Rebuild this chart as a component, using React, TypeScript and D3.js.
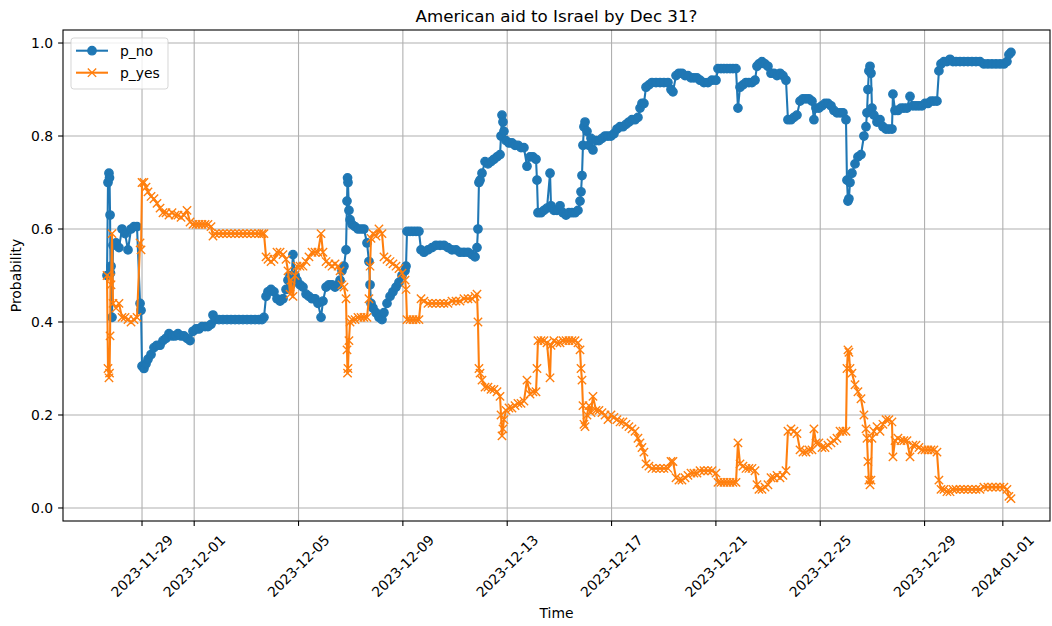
import * as d3 from 'd3';

// hours counted from 2023-11-27 00:00
const START = new Date(2023, 10, 27);

const hours = [
  15.8, 16.7, 17.6, 18.1, 18.6, 19.0, 19.5, 20.4, 21.3, 24.1,
  26.8, 29.6, 32.4, 35.1, 37.9, 40.6, 43.4, 46.2, 47.1, 48.0,
  49.8, 51.7, 53.5, 56.3, 59.0, 61.8, 64.6, 67.3, 70.1, 72.8,
  75.6, 78.4, 81.1, 83.9, 86.6, 89.4, 92.2, 94.9, 97.7, 100.4,
  103.2, 106.0, 108.7, 111.5, 113.3, 115.2, 118.8, 122.5, 126.2, 129.9,
  133.6, 137.2, 140.9, 144.6, 148.3, 152.0, 155.6, 158.4, 160.2, 162.1,
  163.9, 166.7, 169.4, 172.2, 175.0, 177.7, 180.5, 182.3, 184.2, 185.1,
  186.9, 188.8, 190.6, 193.4, 196.1, 198.9, 201.6, 204.4, 207.2, 209.9,
  212.7, 214.5, 217.3, 220.0, 222.8, 225.6, 228.3, 230.2, 232.0, 233.8,
  235.7, 236.6, 237.1, 237.5, 238.4, 239.4, 241.2, 244.0, 246.7, 249.5,
  252.2, 255.0, 256.8, 257.8, 258.7, 260.5, 263.3, 266.0, 268.8, 270.6,
  273.4, 276.2, 278.9, 281.7, 284.4, 287.2, 290.0, 290.9, 291.8, 294.6,
  297.3, 300.1, 302.8, 304.7, 307.4, 311.1, 314.8, 318.5, 322.2, 325.8,
  329.5, 333.2, 336.9, 340.6, 344.2, 347.9, 351.6, 354.4, 356.2, 357.1,
  358.0, 359.0, 360.8, 363.6, 366.3, 369.1, 371.8, 374.6, 377.4, 378.3,
  379.2, 380.1, 381.0, 382.9, 385.6, 388.4, 391.2, 393.9, 396.7, 399.4,
  402.2, 405.0, 407.7, 410.5, 411.4, 412.3, 415.1, 417.8, 420.6, 423.4,
  424.3, 427.0, 429.8, 432.6, 435.3, 438.1, 440.8, 443.6, 446.4, 449.1,
  451.0, 451.9, 452.8, 453.7, 454.6, 455.6, 457.4, 459.2, 461.1, 462.9,
  465.7, 468.4, 471.2, 474.0, 476.7, 479.5, 482.2, 485.0, 487.8, 490.5,
  493.3, 496.0, 498.8, 501.6, 504.3, 506.2, 508.0, 509.8, 511.7, 514.4,
  517.2, 520.9, 524.6, 528.2, 531.9, 534.7, 536.5, 539.3, 542.0, 544.8,
  547.6, 550.3, 553.1, 555.8, 558.6, 561.4, 565.0, 568.7, 572.4, 576.1,
  577.9, 580.7, 583.4, 586.2, 589.0, 591.7, 594.5, 596.3, 598.2, 600.9,
  603.7, 606.4, 609.2, 612.0, 613.8, 615.6, 618.4, 621.2, 623.9, 626.7,
  629.4, 632.2, 635.0, 637.7, 640.5, 642.3, 645.1, 647.8, 650.6, 653.4,
  656.1, 658.9, 661.6, 664.4, 666.2, 668.1, 670.8, 673.6, 676.4, 679.1,
  681.9, 684.6, 687.4, 690.2, 692.9, 695.7, 696.6, 697.5, 698.4, 699.4,
  701.2, 704.0, 706.7, 709.5, 712.2, 714.1, 715.0, 715.9, 716.8, 717.8,
  718.7, 719.6, 721.4, 724.2, 727.0, 729.7, 732.5, 735.2, 738.0, 738.9,
  740.8, 743.5, 746.3, 749.0, 751.8, 754.6, 757.3, 760.1, 762.8, 765.6,
  768.4, 771.1, 773.9, 776.6, 779.4, 781.2, 783.1, 785.8, 788.6, 791.4,
  794.1, 796.9, 800.6, 804.2, 807.9, 811.6, 815.3, 819.0, 822.6, 826.3,
  830.0, 833.7, 837.4, 841.0, 843.8, 845.6, 847.5,
];

const pNo = [
  0.50, 0.70, 0.72, 0.71, 0.63, 0.505, 0.52, 0.41, 0.565, 0.57,
  0.56, 0.60, 0.59, 0.555, 0.60, 0.605, 0.605, 0.44, 0.425, 0.305,
  0.30, 0.31, 0.32, 0.33, 0.345, 0.35, 0.35, 0.36, 0.365, 0.375,
  0.37, 0.37, 0.375, 0.37, 0.37, 0.365, 0.36, 0.38, 0.385, 0.385,
  0.39, 0.39, 0.39, 0.395, 0.415, 0.405, 0.405, 0.405, 0.405, 0.405,
  0.405, 0.405, 0.405, 0.405, 0.405, 0.405, 0.405, 0.405, 0.41, 0.455,
  0.465, 0.47, 0.465, 0.45, 0.445, 0.45, 0.47, 0.49, 0.50, 0.48,
  0.545, 0.50, 0.49, 0.48, 0.475, 0.46, 0.455, 0.45, 0.45, 0.44,
  0.41, 0.445, 0.475, 0.48, 0.48, 0.475, 0.48, 0.49, 0.51, 0.52,
  0.555, 0.66, 0.71, 0.70, 0.64, 0.62, 0.61, 0.605, 0.60, 0.60,
  0.60, 0.57, 0.53, 0.48, 0.44, 0.43, 0.42, 0.41, 0.405, 0.42,
  0.44, 0.455, 0.465, 0.475, 0.485, 0.50, 0.51, 0.52, 0.595, 0.595,
  0.595, 0.595, 0.595, 0.555, 0.55, 0.555, 0.56, 0.565, 0.565, 0.565,
  0.56, 0.555, 0.555, 0.55, 0.55, 0.55, 0.545, 0.54, 0.56, 0.60,
  0.70, 0.705, 0.72, 0.745, 0.74, 0.745, 0.75, 0.755, 0.76, 0.80,
  0.845, 0.83, 0.81, 0.79, 0.785, 0.785, 0.78, 0.78, 0.775, 0.775,
  0.735, 0.755, 0.755, 0.75, 0.705, 0.635, 0.635, 0.64, 0.645, 0.72,
  0.65, 0.64, 0.64, 0.65, 0.635, 0.63, 0.635, 0.635, 0.635, 0.64,
  0.66, 0.68, 0.715, 0.78, 0.82, 0.83, 0.81, 0.78, 0.795, 0.77,
  0.79, 0.79, 0.795, 0.80, 0.80, 0.80, 0.805, 0.815, 0.82, 0.82,
  0.825, 0.83, 0.835, 0.835, 0.84, 0.86, 0.87, 0.87, 0.905, 0.91,
  0.915, 0.915, 0.915, 0.915, 0.915, 0.90, 0.895, 0.93, 0.935, 0.935,
  0.93, 0.93, 0.925, 0.925, 0.925, 0.92, 0.915, 0.915, 0.92, 0.92,
  0.945, 0.945, 0.945, 0.945, 0.945, 0.945, 0.945, 0.86, 0.905, 0.91,
  0.915, 0.915, 0.915, 0.92, 0.95, 0.955, 0.96, 0.955, 0.95, 0.935,
  0.935, 0.93, 0.935, 0.93, 0.92, 0.835, 0.835, 0.84, 0.845, 0.875,
  0.88, 0.88, 0.88, 0.875, 0.835, 0.86, 0.86, 0.865, 0.87, 0.87,
  0.865, 0.855, 0.85, 0.85, 0.85, 0.835, 0.705, 0.66, 0.665, 0.70,
  0.72, 0.74, 0.755, 0.76, 0.80, 0.82, 0.85, 0.90, 0.94, 0.95,
  0.935, 0.86, 0.845, 0.83, 0.835, 0.82, 0.815, 0.815, 0.815, 0.89,
  0.855, 0.855, 0.86, 0.86, 0.86, 0.885, 0.865, 0.865, 0.865, 0.865,
  0.87, 0.87, 0.875, 0.875, 0.875, 0.94, 0.955, 0.96, 0.96, 0.965,
  0.96, 0.96, 0.96, 0.96, 0.96, 0.96, 0.96, 0.96, 0.955, 0.955,
  0.955, 0.955, 0.955, 0.955, 0.96, 0.975, 0.98,
];

const pYes = [
  0.50, 0.30, 0.28, 0.29, 0.37, 0.495, 0.48, 0.59, 0.44, 0.43,
  0.44, 0.41, 0.41, 0.405, 0.40, 0.405, 0.41, 0.57, 0.555, 0.70,
  0.70, 0.69, 0.68, 0.67, 0.665, 0.655, 0.645, 0.635, 0.635, 0.63,
  0.635, 0.63, 0.63, 0.625, 0.63, 0.64, 0.615, 0.61, 0.61, 0.61,
  0.61, 0.61, 0.61, 0.605, 0.585, 0.59, 0.59, 0.59, 0.59, 0.59,
  0.59, 0.59, 0.59, 0.59, 0.59, 0.59, 0.59, 0.59, 0.59, 0.54,
  0.535, 0.53, 0.535, 0.55, 0.55, 0.545, 0.535, 0.51, 0.46, 0.49,
  0.455, 0.50, 0.52, 0.52, 0.52, 0.53, 0.54, 0.55, 0.55, 0.55,
  0.59, 0.55, 0.53, 0.525, 0.52, 0.525, 0.52, 0.51, 0.48, 0.475,
  0.45, 0.34, 0.29, 0.30, 0.36, 0.40, 0.405, 0.405, 0.41, 0.41,
  0.41, 0.41, 0.45, 0.52, 0.58, 0.59, 0.585, 0.60, 0.59, 0.54,
  0.535, 0.53, 0.525, 0.52, 0.515, 0.505, 0.49, 0.47, 0.405, 0.405,
  0.405, 0.405, 0.405, 0.45, 0.445, 0.44, 0.44, 0.44, 0.44, 0.44,
  0.44, 0.445, 0.445, 0.445, 0.45, 0.45, 0.45, 0.455, 0.46, 0.40,
  0.30, 0.29, 0.275, 0.26, 0.26, 0.255, 0.255, 0.25, 0.24, 0.20,
  0.155, 0.17, 0.19, 0.21, 0.215, 0.215, 0.22, 0.225, 0.225, 0.23,
  0.275, 0.245, 0.25, 0.25, 0.30, 0.36, 0.36, 0.36, 0.355, 0.28,
  0.35, 0.36, 0.355, 0.355, 0.36, 0.36, 0.36, 0.36, 0.36, 0.355,
  0.34, 0.30, 0.275, 0.22, 0.18, 0.175, 0.20, 0.22, 0.205, 0.24,
  0.21, 0.21, 0.205, 0.20, 0.19, 0.20, 0.195, 0.19, 0.185, 0.185,
  0.18, 0.175, 0.17, 0.165, 0.15, 0.14, 0.13, 0.12, 0.095, 0.09,
  0.085, 0.085, 0.085, 0.085, 0.085, 0.10, 0.10, 0.065, 0.06, 0.06,
  0.065, 0.07, 0.075, 0.075, 0.075, 0.08, 0.08, 0.08, 0.08, 0.075,
  0.055, 0.055, 0.055, 0.055, 0.055, 0.055, 0.055, 0.14, 0.095, 0.09,
  0.085, 0.085, 0.085, 0.08, 0.05, 0.04, 0.04, 0.045, 0.05, 0.065,
  0.065, 0.07, 0.065, 0.07, 0.08, 0.165, 0.17, 0.165, 0.16, 0.125,
  0.12, 0.12, 0.125, 0.125, 0.17, 0.14, 0.14, 0.13, 0.13, 0.135,
  0.14, 0.145, 0.15, 0.165, 0.165, 0.165, 0.30, 0.34, 0.335, 0.30,
  0.29, 0.265, 0.25, 0.235, 0.20, 0.17, 0.15, 0.10, 0.06, 0.05,
  0.06, 0.15, 0.165, 0.175, 0.165, 0.18, 0.19, 0.19, 0.185, 0.11,
  0.145, 0.15, 0.145, 0.145, 0.145, 0.11, 0.135, 0.135, 0.13, 0.125,
  0.125, 0.125, 0.125, 0.125, 0.12, 0.06, 0.04, 0.04, 0.035, 0.035,
  0.04, 0.04, 0.04, 0.04, 0.04, 0.04, 0.04, 0.04, 0.045, 0.045,
  0.045, 0.045, 0.045, 0.045, 0.04, 0.025, 0.02,
];

const tickDates = [
  '2023-11-29', '2023-12-01', '2023-12-05', '2023-12-09', '2023-12-13',
  '2023-12-17', '2023-12-21', '2023-12-25', '2023-12-29', '2024-01-01',
];
const yTicks = [0, 0.2, 0.4, 0.6, 0.8, 1.0];

const BLUE = '#1f77b4';
const ORANGE = '#ff7f0e';
const FONT = 'DejaVu Sans, sans-serif';

const W = 1052;
const H = 626;
const left = 63;
const right = 1050;
const top = 30;
const bottom = 521;

const at = (h: number) => new Date(START.getTime() + h * 3600 * 1000);
const parseDay = d3.timeParse('%Y-%m-%d');

const xMark = 'M-4.17,-4.17L4.17,4.17M-4.17,4.17L4.17,-4.17';

export default function App() {
  const x = d3.scaleTime().domain([at(-24.7), at(883.4)]).range([left, right]);
  const y = d3.scaleLinear().domain([-0.028, 1.028]).range([bottom, top]);

  const n = Math.min(hours.length, pNo.length, pYes.length);
  const idx = d3.range(n);
  const noPts: [number, number][] = idx.map((i) => [x(at(hours[i])), y(pNo[i])]);
  const yesPts: [number, number][] = idx.map((i) => [x(at(hours[i])), y(pYes[i])]);
  const line = d3.line();

  const ticks = tickDates.map((s) => ({ label: s, px: x(parseDay(s) as Date) }));

  return (
    <svg
      width={W}
      height={H}
      style={{ position: 'absolute', left: 0, top: 0, background: '#fff' }}
      fontFamily={FONT}
    >
      <rect width={W} height={H} fill="#fff" />

      {/* grid */}
      <g stroke="#b0b0b0" strokeWidth={1.1}>
        {ticks.map((t) => (
          <line key={t.label} x1={t.px} x2={t.px} y1={top} y2={bottom} />
        ))}
        {yTicks.map((v) => (
          <line key={v} x1={left} x2={right} y1={y(v)} y2={y(v)} />
        ))}
      </g>

      {/* p_no */}
      <path d={line(noPts) || ''} fill="none" stroke={BLUE} strokeWidth={2.08} strokeLinejoin="round" />
      <g fill={BLUE} stroke={BLUE} strokeWidth={1.39}>
        {noPts.map((p, i) => (
          <circle key={i} cx={p[0]} cy={p[1]} r={4.17} />
        ))}
      </g>

      {/* p_yes */}
      <path d={line(yesPts) || ''} fill="none" stroke={ORANGE} strokeWidth={2.08} strokeLinejoin="round" />
      <g fill="none" stroke={ORANGE} strokeWidth={1.39}>
        {yesPts.map((p, i) => (
          <path key={i} d={xMark} transform={`translate(${p[0]},${p[1]})`} />
        ))}
      </g>

      {/* spines */}
      <rect x={left} y={top} width={right - left} height={bottom - top} fill="none" stroke="#000" strokeWidth={1.1} />

      {/* y axis */}
      <g fontSize={13.9} fill="#000">
        {yTicks.map((v) => (
          <g key={v}>
            <line x1={left - 4.9} x2={left} y1={y(v)} y2={y(v)} stroke="#000" strokeWidth={1.1} />
            <text x={left - 9.8} y={y(v)} textAnchor="end" dominantBaseline="central">
              {d3.format('.1f')(v)}
            </text>
          </g>
        ))}
      </g>

      {/* x axis */}
      <g fontSize={13.9} fill="#000">
        {ticks.map((t) => (
          <g key={t.label}>
            <line x1={t.px} x2={t.px} y1={bottom} y2={bottom + 4.9} stroke="#000" strokeWidth={1.1} />
            <text
              transform={`translate(${t.px},${566}) rotate(-45)`}
              textAnchor="middle"
              dominantBaseline="central"
            >
              {t.label}
            </text>
          </g>
        ))}
      </g>

      {/* labels */}
      <text x={(left + right) / 2} y={618} textAnchor="middle" fontSize={13.9}>
        Time
      </text>
      <text transform={`translate(21,${(top + bottom) / 2}) rotate(-90)`} textAnchor="middle" fontSize={13.9}>
        Probability
      </text>
      <text x={(left + right) / 2} y={21.5} textAnchor="middle" fontSize={16.7}>
        American aid to Israel by Dec 31?
      </text>

      {/* legend */}
      <g>
        <rect x={71} y={38} width={97} height={51} rx={2.8} fill="#fff" fillOpacity={0.8} stroke="#cccccc" strokeOpacity={0.8} strokeWidth={1} />
        <line x1={76} x2={108} y1={50.7} y2={50.7} stroke={BLUE} strokeWidth={2.08} />
        <circle cx={92} cy={50.7} r={4.17} fill={BLUE} stroke={BLUE} strokeWidth={1.39} />
        <text x={120} y={50.7} dominantBaseline="central" fontSize={13.9}>p_no</text>
        <line x1={76} x2={108} y1={72.7} y2={72.7} stroke={ORANGE} strokeWidth={2.08} />
        <path d={xMark} transform="translate(92,72.7)" fill="none" stroke={ORANGE} strokeWidth={1.39} />
        <text x={120} y={72.7} dominantBaseline="central" fontSize={13.9}>p_yes</text>
      </g>
    </svg>
  );
}
